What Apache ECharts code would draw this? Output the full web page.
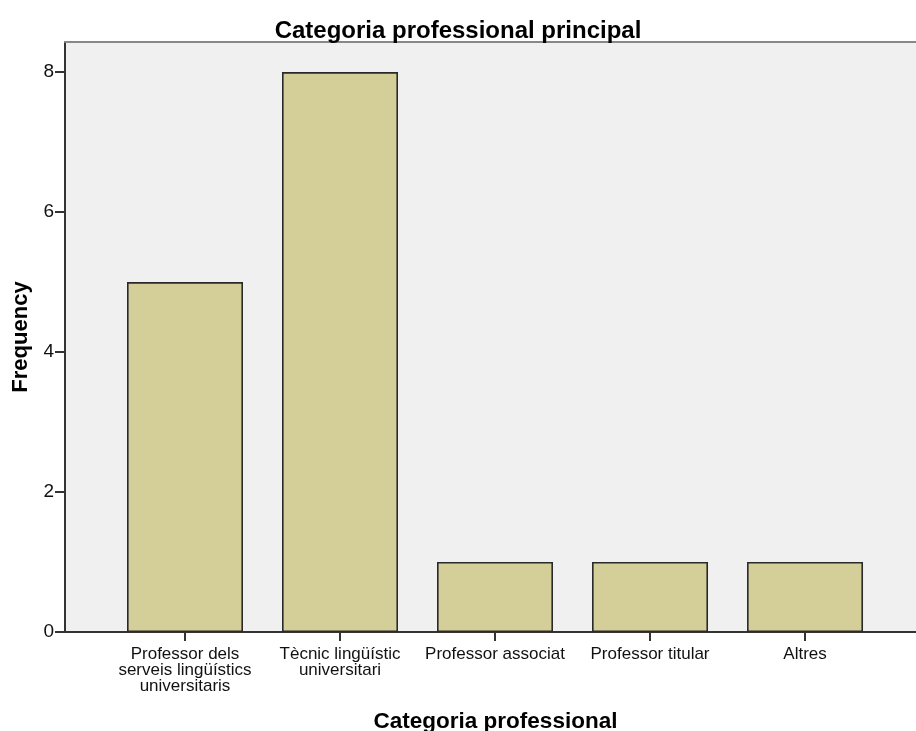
<!DOCTYPE html>
<html>
<head>
<meta charset="utf-8">
<script src="https://cdn.jsdelivr.net/npm/echarts@6/dist/echarts.min.js"></script>
<style>
html,body{margin:0;padding:0;background:#fff;}
#c{width:916px;height:731px;}
</style>
</head>
<body>
<div id="c"></div>
<script>
const categories = [
  "Professor dels\nserveis lingüístics\nuniversitaris",
  "Tècnic lingüístic\nuniversitari",
  "Professor associat",
  "Professor titular",
  "Altres"
];
const frequencies = [5, 8, 1, 1, 1];
const yTicks = [0, 2, 4, 6, 8];

const positions = categories.map((c, i) => i + 1);
const barData = frequencies.map((v, i) => [positions[i], v]);

const chart = echarts.init(document.getElementById('c'), null, {renderer: 'canvas'});
chart.setOption({
  animation: false,
  backgroundColor: '#ffffff',
  title: {
    text: 'Categoria professional principal',
    left: 'center',
    top: 14,
    textStyle: {fontFamily: 'Liberation Sans', fontWeight: 'bold', fontSize: 24, color: '#000'}
  },
  grid: {
    left: 65, right: 0, top: 42, bottom: 99,
    containLabel: false,
    outerBoundsMode: 'none',
    show: true, backgroundColor: '#f0f0f0', borderWidth: 0
  },
  xAxis: [{
    type: 'value',
    min: 0.2258,
    max: 5.716,
    name: 'Categoria professional',
    nameLocation: 'middle',
    nameGap: 78,
    nameTextStyle: {fontFamily: 'Liberation Sans', fontWeight: 'bold', fontSize: 22.5, color: '#000', padding: [0, 0, 0, 10]},
    axisLine: {show: true, onZero: false, lineStyle: {color: '#333', width: 2}},
    axisTick: {show: true, length: 9, customValues: positions, lineStyle: {color: '#333', width: 2}},
    axisLabel: {
      customValues: positions,
      margin: 14,
      fontFamily: 'Liberation Sans', fontSize: 17, lineHeight: 16, color: '#111',
      formatter: v => categories[Math.round(v) - 1] || ''
    },
    splitLine: {show: false}
  }, {
    type: 'value',
    position: 'top',
    min: 0.2258,
    max: 5.716,
    axisLine: {show: true, onZero: false, lineStyle: {color: '#888', width: 2}},
    axisTick: {show: false},
    axisLabel: {show: false},
    splitLine: {show: false}
  }],
  yAxis: {
    type: 'value',
    min: 0,
    max: 8.43,
    interval: 2,
    name: 'Frequency',
    nameLocation: 'middle',
    nameGap: 33,
    nameTextStyle: {fontFamily: 'Liberation Sans', fontWeight: 'bold', fontSize: 22, color: '#000'},
    axisLine: {show: true, lineStyle: {color: '#333', width: 2}},
    axisTick: {show: true, length: 10, customValues: yTicks, lineStyle: {color: '#333', width: 2}},
    axisLabel: {customValues: yTicks, margin: 11, fontFamily: 'Liberation Sans', fontSize: 19, color: '#111', padding: [3, 0, 0, 0]},
    splitLine: {show: false}
  },
  series: [{
    type: 'bar',
    xAxisIndex: 0,
    data: barData,
    barWidth: 116,
    itemStyle: {color: '#d4cf98', borderColor: '#2a2a2a', borderWidth: 1.6}
  }]
});
</script>
</body>
</html>
